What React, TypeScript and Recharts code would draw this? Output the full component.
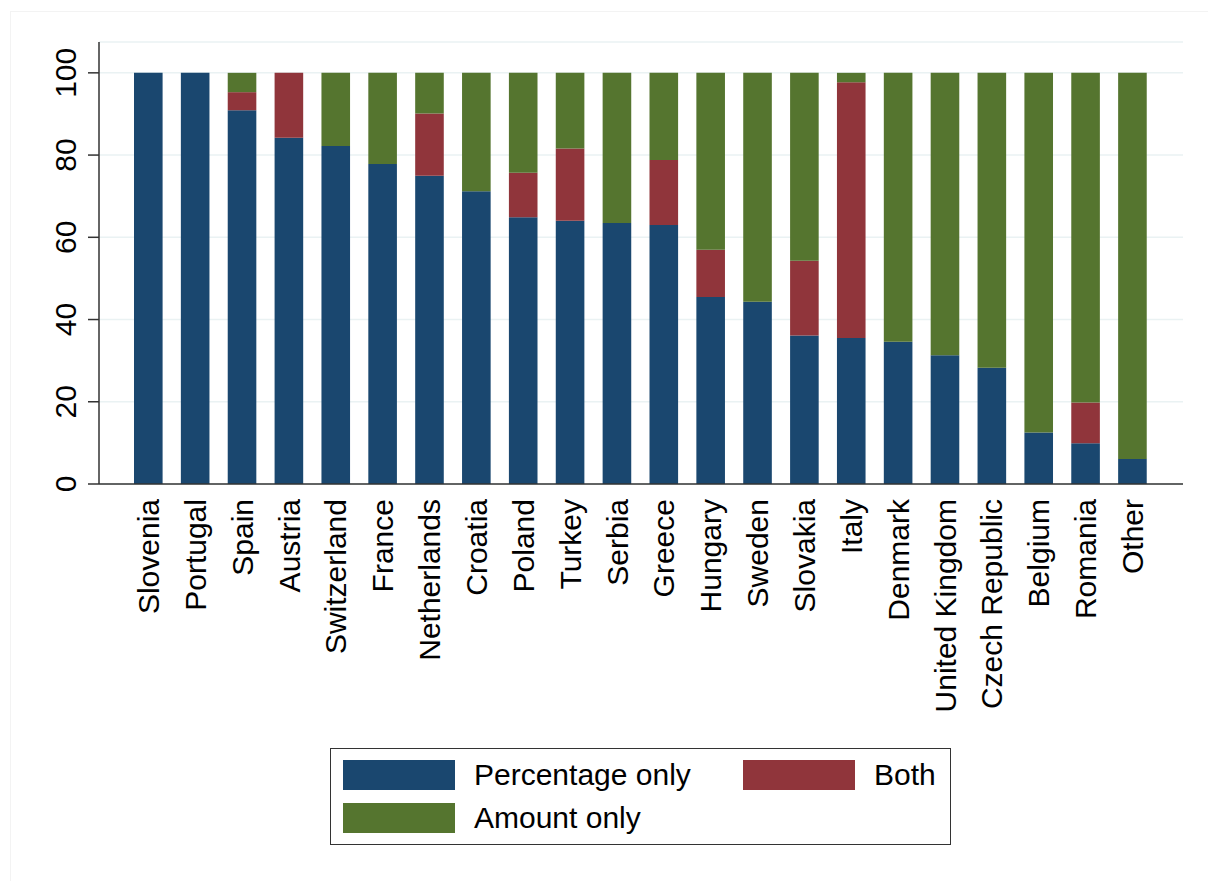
import { Bar, BarChart, CartesianGrid, XAxis, YAxis } from "recharts"

const countries = [
  "Slovenia", "Portugal", "Spain", "Austria", "Switzerland", "France",
  "Netherlands", "Croatia", "Poland", "Turkey", "Serbia", "Greece",
  "Hungary", "Sweden", "Slovakia", "Italy", "Denmark", "United Kingdom",
  "Czech Republic", "Belgium", "Romania", "Other",
]
const percentageOnly = [100, 100, 90.9, 84.2, 82.2, 77.8, 75.0, 71.2, 64.9, 64.0, 63.5, 63.0, 45.5, 44.3, 36.1, 35.5, 34.6, 31.3, 28.3, 12.5, 9.9, 6.1]
const both = [0, 0, 4.4, 15.8, 0, 0, 15.1, 0, 10.8, 17.6, 0, 15.8, 11.5, 0, 18.2, 62.2, 0, 0, 0, 0, 9.9, 0]
const amountOnly = [0, 0, 4.7, 0, 17.8, 22.2, 9.9, 28.8, 24.3, 18.4, 36.5, 21.2, 43.0, 55.7, 45.7, 2.3, 65.4, 68.7, 71.7, 87.5, 80.2, 93.9]
const yTicks = [0, 20, 40, 60, 80, 100]

const data = countries.map((name, i) => ({
  name,
  pct: percentageOnly[i],
  both: both[i],
  amount: amountOnly[i],
}))

const FONT = '"Liberation Sans", Arial, sans-serif'
const BLUE = "#1a476f"
const RED = "#90353b"
const GREEN = "#55752f"

const XTick = (props: any) => {
  const { x, payload } = props
  const y = 499
  return (
    <text
      x={x}
      y={y}
      transform={`rotate(-90 ${x} ${y})`}
      textAnchor="end"
      dy="0.35em"
      fontSize={30}
      fontFamily={FONT}
      fill="#000"
    >
      {payload.value}
    </text>
  )
}

const YTick = (props: any) => {
  const { y, payload } = props
  const x = 76
  return (
    <text
      x={x}
      y={y}
      transform={`rotate(-90 ${x} ${y})`}
      textAnchor="middle"
      fontSize={30}
      fontFamily={FONT}
      fill="#000"
    >
      {payload.value}
    </text>
  )
}

const legendItems = [
  { label: "Percentage only", color: BLUE, left: 12, top: 11 },
  { label: "Both", color: RED, left: 412, top: 11 },
  { label: "Amount only", color: GREEN, left: 12, top: 54 },
]

export default function App() {
  return (
    <div style={{ position: "absolute", left: 0, top: 0, width: 1208, height: 881, background: "#fff", fontFamily: FONT }}>
      {/* faint outer graph region border */}
      <div
        style={{
          position: "absolute",
          left: 10,
          top: 11,
          width: 1198,
          height: 870,
          borderLeft: "1px solid #f3f3f3",
          borderTop: "1px solid #f3f3f3",
        }}
      />
      <BarChart
        width={1208}
        height={881}
        data={data}
        margin={{ top: 42, right: 25, bottom: 0, left: 0 }}
        barSize={28.6}
      >
        <CartesianGrid vertical={false} stroke="#eaf2f3" strokeWidth={1.5} />
        <XAxis
          dataKey="name"
          interval={0}
          height={397}
          tick={<XTick />}
          tickLine={false}
          axisLine={{ stroke: "#333", strokeWidth: 1.5 }}
          padding={{ left: 26, right: 27 }}
        />
        <YAxis
          width={99}
          domain={[0, 107.5]}
          ticks={yTicks}
          tick={<YTick />}
          tickSize={11}
          tickLine={{ stroke: "#333", strokeWidth: 1.5 }}
          axisLine={{ stroke: "#333", strokeWidth: 1.5 }}
        />
        <Bar dataKey="pct" stackId="a" fill={BLUE} isAnimationActive={false} />
        <Bar dataKey="both" stackId="a" fill={RED} isAnimationActive={false} />
        <Bar dataKey="amount" stackId="a" fill={GREEN} isAnimationActive={false} />
      </BarChart>
      <div
        style={{
          position: "absolute",
          left: 330,
          top: 748,
          width: 619,
          height: 95,
          border: "1.5px solid #333",
        }}
      >
        {legendItems.map(item => (
          <div key={item.label} style={{ position: "absolute", left: item.left, top: item.top, display: "flex", alignItems: "center" }}>
            <div style={{ width: 112, height: 30, background: item.color }} />
            <span style={{ marginLeft: 19, fontSize: 30, color: "#000", lineHeight: "30px" }}>{item.label}</span>
          </div>
        ))}
      </div>
    </div>
  )
}
